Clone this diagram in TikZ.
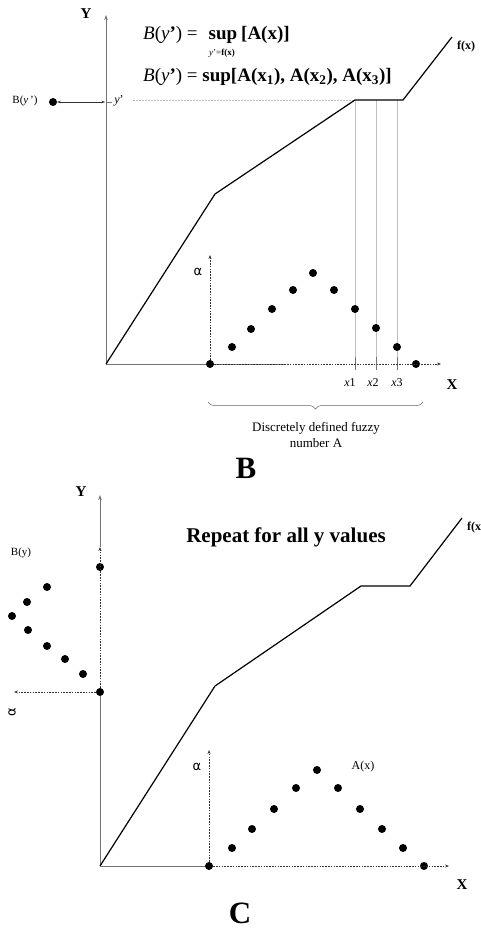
\documentclass[tikz,border=0pt]{standalone}
\usepackage{fontspec}
\setmainfont{Liberation Serif}
\newfontfamily\alphafont{DejaVu Sans}
\usetikzlibrary{decorations.pathreplacing,arrows.meta}
\begin{document}
\begin{tikzpicture}[x=1pt,y=-1pt,
  axis/.style={draw=black!55, line width=0.8pt},
  fline/.style={draw=black, line width=1.2pt, line join=miter},
  dot/.style={circle, fill=black, inner sep=0pt, minimum size=8pt},
  guide/.style={draw=black!25, line width=0.5pt},
  tickline/.style={draw=black!55, line width=0.6pt},
  dasharr/.style={draw=black!80, dash pattern=on 1.6pt off 1.2pt, line width=0.6pt, -{Stealth[length=4pt,width=3pt]}},
  solidarr/.style={axis, -{Stealth[length=5pt,width=3.5pt]}},
  axlabel/.style={font=\fontsize{15}{15}\selectfont\bfseries, inner sep=0pt},
  small/.style={font=\fontsize{11}{11}\selectfont, inner sep=0pt},
  alab/.style={font=\alphafont\fontsize{13}{13}\selectfont, inner sep=0pt},
  big/.style={font=\fontsize{31}{31}\selectfont\bfseries, inner sep=0pt},
  eq/.style={font=\fontsize{19}{19}\selectfont, inner sep=0pt}]
\useasboundingbox (0,0) rectangle (480,928);
% ================= Panel B =================
\coordinate (O1) at (106,364);
\coordinate (Ytop1) at (106,15);
\coordinate (Xmid1) at (285,364);
\coordinate (Xend1) at (441,364);
\draw[solidarr] (O1) -- (Ytop1);
\draw[axis] (O1) -- (Xmid1);
% horizontal guide at y'
\coordinate (hg1) at (133,100);
\coordinate (k2) at (355,100);
\draw[guide, dash pattern=on 2pt off 1pt] (hg1) -- (k2);
% vertical guides
\coordinate (g2) at (376,100);
\coordinate (g3) at (397,100);
\coordinate (gb1) at (355,364);
\coordinate (gb2) at (376,364);
\coordinate (gb3) at (397,364);
\draw[guide] (k2) -- (gb1);
\draw[guide] (g2) -- (gb2);
\draw[guide] (g3) -- (gb3);
% ticks
\coordinate (t1a) at (355,357); \coordinate (t1b) at (355,370);
\coordinate (t2a) at (376,357); \coordinate (t2b) at (376,370);
\coordinate (t3a) at (397,357); \coordinate (t3b) at (397,370);
\draw[tickline] (t1a) -- (t1b);
\draw[tickline] (t2a) -- (t2b);
\draw[tickline] (t3a) -- (t3b);
% f(x)
\coordinate (k1) at (215,194);
\coordinate (k3) at (403,100);
\coordinate (fend1) at (452,37);
\draw[fline] (O1) -- (k1) -- (k2) -- (k3) -- (fend1);
\node[font=\fontsize{12}{12}\selectfont\bfseries, inner sep=0pt, anchor=west] (fx1) at (457,47) {f(x)};
% dots of A
\node[dot] (a0) at (210,364) {};
\node[dot] (a1) at (232,347) {};
\node[dot] (a2) at (251,329) {};
\node[dot] (a3) at (272,309) {};
\node[dot] (a4) at (293,290) {};
\node[dot] (a5) at (313,273) {};
\node[dot] (a6) at (334,290) {};
\node[dot] (a7) at (355,309) {};
\node[dot] (a8) at (376,328) {};
\node[dot] (a9) at (397,347) {};
\node[dot] (a10) at (416,364) {};
\draw[dasharr] (a0) -- (Xend1);
\coordinate (al1) at (210,255);
\draw[dasharr] (a0) -- (al1);
\node[alab] (alpha1) at (198,272) {α};
% x labels
\node[small, font=\fontsize{12}{12}\selectfont] (x1) at (350,383) {\textit{x}1};
\node[small, font=\fontsize{12}{12}\selectfont] (x2) at (373,383) {\textit{x}2};
\node[small, font=\fontsize{12}{12}\selectfont] (x3) at (397,383) {\textit{x}3};
\node[axlabel] (X1) at (452,385) {X};
\node[axlabel] (Y1) at (86,14) {Y};
% y' and B(y')
\coordinate (yt1) at (106,102);
\coordinate (yt2) at (112,102);
\draw[tickline] (yt1) -- (yt2);
\node[font=\fontsize{12}{12}\selectfont, inner sep=0pt] (yp) at (119,101) {\textit{y}'};
\node[dot] (by) at (53,102) {};
\coordinate (yax) at (105,102);
\draw[draw=black!80, line width=0.5pt, {Stealth[length=3.5pt,width=2.5pt]}-{Stealth[length=3.5pt,width=2.5pt]}] (by) -- (yax);
\node[small] (bylab) at (25,101) {B(\textit{y}\,')};
% brace
\coordinate (br1) at (208,402);
\coordinate (br2) at (423,402);
\draw[decorate, decoration={brace, mirror, amplitude=7pt}, draw=black!60, line width=0.5pt] (br1) -- (br2);
\node[font=\fontsize{13}{16}\selectfont, align=center, inner sep=0pt] (disc) at (316,435) {Discretely defined fuzzy\\number A};
\node[big] (Blab) at (246,468) {B};
% formulas
\node[eq, anchor=base west] (eq1a) at (143,40) {\textit{B}(\textit{y}\textbf{'}) =};
\node[eq, anchor=base] (eq1b) at (223,40) {\textbf{sup}};
\node[eq, anchor=base west] (eq1c) at (241,40) {\textbf{[A(x)]}};
\node[font=\fontsize{9}{9}\selectfont, inner sep=0pt] (eqsub) at (222,53) {\textit{y}'=\textbf{f(x)}};
\node[eq, anchor=base west] (eq2) at (143,82) {\textit{B}(\textit{y}\textbf{'}) = \textbf{sup[A(x\textsubscript{1}), A(x\textsubscript{2}), A(x\textsubscript{3})]}};
% ================= Panel C =================
\coordinate (O2) at (100,866);
\node[dot] (yd0) at (100,692) {};
\node[dot] (yd1) at (100,567) {};
\coordinate (ymid2) at (100,547);
\coordinate (Ytop2) at (100,495);
\draw[axis] (O2) -- (yd0);
\draw[dasharr] (yd0) -- (ymid2);
\draw[solidarr] (ymid2) -- (Ytop2);
\node[axlabel] (Y2) at (81,492) {Y};
% left B(y) dots
\node[dot] (b1) at (47,587) {};
\node[dot] (b2) at (27,602) {};
\node[dot] (b3) at (12,616) {};
\node[dot] (b4) at (28,630) {};
\node[dot] (b5) at (47,646) {};
\node[dot] (b6) at (65,659) {};
\node[dot] (b7) at (83,674) {};
\coordinate (lft) at (14,692);
\draw[dasharr] (yd0) -- (lft);
\node[alab, rotate=90] (alpha3) at (12,712) {α};
\node[small] (bylab2) at (21,553) {B(y)};
% f(x)
\coordinate (m1) at (215,686);
\coordinate (m2) at (361,586);
\coordinate (m3) at (410,586);
\coordinate (fend2) at (462,518);
\draw[fline] (O2) -- (m1) -- (m2) -- (m3) -- (fend2);
\node[font=\fontsize{12}{12}\selectfont\bfseries, inner sep=0pt, anchor=west] (fx2) at (467,528) {f(x)};
% x axis and dots
\node[dot] (c0) at (209,866) {};
\node[dot] (c1) at (232,848) {};
\node[dot] (c2) at (252,829) {};
\node[dot] (c3) at (274,809) {};
\node[dot] (c4) at (296,788) {};
\node[dot] (c5) at (317,770) {};
\node[dot] (c6) at (338,788) {};
\node[dot] (c7) at (360,809) {};
\node[dot] (c8) at (382,829) {};
\node[dot] (c9) at (403,848) {};
\node[dot] (c10) at (424,866) {};
\coordinate (Xend2) at (449,866);
\draw[axis] (O2) -- (c0);
\draw[dasharr] (c0) -- (Xend2);
\coordinate (al2) at (209,750);
\draw[dasharr] (c0) -- (al2);
\node[alab] (alpha2) at (197,767) {α};
\node[font=\fontsize{12}{12}\selectfont, inner sep=0pt] (Ax) at (363,767) {A(x)};
\node[axlabel] (X2) at (462,885) {X};
\node[font=\fontsize{21}{21}\selectfont\bfseries, inner sep=0pt] (rep) at (286,537) {Repeat for all y values};
\node[big] (Clab) at (240,913) {C};
\end{tikzpicture}
\end{document}
